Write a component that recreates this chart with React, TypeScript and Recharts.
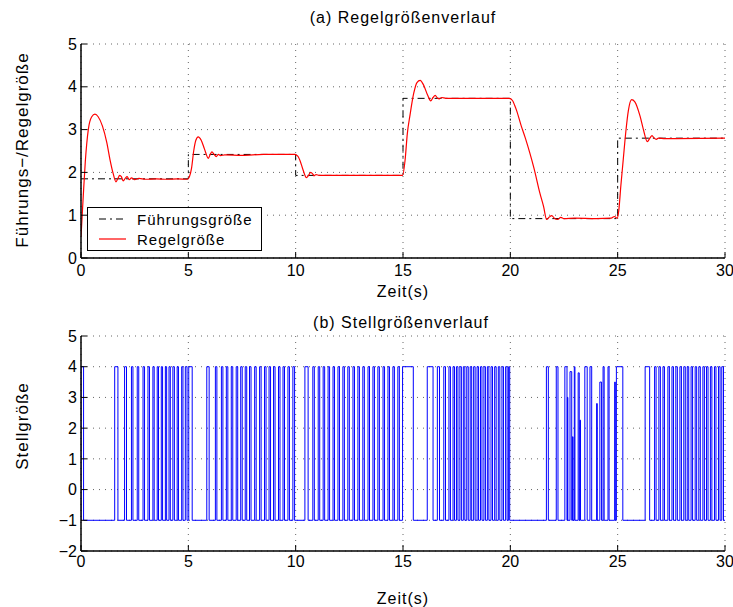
import React from 'react';
import { LineChart, Line, XAxis, YAxis, CartesianGrid } from 'recharts';

// Führungsgröße: Sprungzeitpunkte und Sollwerte
const stepTimes = [0, 5, 10, 15, 20, 25];
const stepLevels = [1.85, 2.42, 1.93, 3.73, 0.92, 2.8];

// Regelgröße [t, y]
const regelPoints: [number, number][] = [
  [0, 0.5], [0.1, 1.4], [0.2, 2.25], [0.34, 3.0], [0.5, 3.3], [0.65, 3.36], [0.8, 3.3], [1.0, 3.08],
  [1.2, 2.7], [1.35, 2.3], [1.5, 1.97], [1.63, 1.78], [1.72, 1.86], [1.8, 1.93], [1.88, 1.9], [1.97, 1.8],
  [2.06, 1.86], [2.15, 1.9], [2.25, 1.83], [2.35, 1.87], [2.5, 1.83], [2.7, 1.86], [3.0, 1.84], [3.5, 1.85],
  [4.0, 1.84], [4.5, 1.85], [4.95, 1.84],
  [5.05, 1.9], [5.15, 2.1], [5.25, 2.5], [5.35, 2.75], [5.46, 2.83], [5.6, 2.75], [5.75, 2.55], [5.93, 2.33],
  [6.02, 2.42], [6.1, 2.48], [6.2, 2.42], [6.3, 2.37], [6.4, 2.42], [6.5, 2.39], [6.7, 2.41], [7.5, 2.4],
  [8.5, 2.42], [9.95, 2.42],
  [10.1, 2.38], [10.2, 2.28], [10.35, 2.05], [10.5, 1.88], [10.6, 1.93], [10.7, 2.0], [10.8, 1.96],
  [10.86, 1.92], [10.95, 1.95], [11.1, 1.93], [13, 1.93], [14.98, 1.93],
  [15.1, 2.3], [15.2, 2.9], [15.33, 3.35], [15.5, 3.85], [15.65, 4.1], [15.8, 4.15], [15.95, 4.05],
  [16.15, 3.8], [16.29, 3.67], [16.4, 3.75], [16.5, 3.8], [16.6, 3.74], [16.7, 3.72], [16.8, 3.75],
  [17, 3.73], [18.5, 3.73], [19.95, 3.73],
  [20.1, 3.68], [20.2, 3.57], [20.29, 3.45], [20.5, 3.1], [20.7, 2.8], [20.91, 2.45], [21.1, 2.1],
  [21.38, 1.51], [21.55, 1.2], [21.69, 0.9], [21.8, 0.95], [21.93, 0.99], [22.05, 0.93], [22.2, 0.9],
  [22.35, 0.95], [22.5, 0.92], [23.0, 0.93], [24.0, 0.92], [24.7, 0.93], [24.85, 0.97], [24.98, 0.93],
  [25.05, 1.1], [25.15, 1.7], [25.26, 2.3], [25.38, 2.95], [25.5, 3.45], [25.65, 3.7], [25.8, 3.65],
  [26.04, 3.32], [26.2, 3.0], [26.38, 2.72], [26.5, 2.8], [26.6, 2.86], [26.7, 2.8], [26.8, 2.77],
  [26.9, 2.8], [27.2, 2.79], [30, 2.8],
];

// Stellgröße: Pulse [ein, aus, Spitzenwert], sonst -1
const pulses: [number, number, number][] = [
  [0, 0.12, 4],
  [1.57, 1.72, 4], [2.03, 2.12, 4], [2.35, 2.42, 4], [2.62, 2.69, 4], [2.89, 2.96, 4], [3.12, 3.19, 4],
  [3.35, 3.41, 4], [3.55, 3.61, 4], [3.74, 3.8, 4], [3.93, 3.99, 4], [4.1, 4.16, 4], [4.28, 4.35, 4],
  [4.48, 4.54, 4], [4.69, 4.75, 4], [4.86, 4.94, 4], [5.02, 5.18, 4],
  [5.86, 5.97, 4], [6.26, 6.33, 4], [6.54, 6.61, 4], [6.77, 6.84, 4], [7.0, 7.07, 4], [7.23, 7.3, 4],
  [7.44, 7.51, 4], [7.65, 7.72, 4], [7.85, 7.92, 4], [8.09, 8.16, 4], [8.32, 8.39, 4], [8.55, 8.62, 4],
  [8.76, 8.83, 4], [8.97, 9.04, 4], [9.2, 9.27, 4], [9.41, 9.48, 4], [9.64, 9.71, 4], [9.87, 9.95, 4],
  [10.43, 10.58, 4], [10.8, 10.87, 4], [11.05, 11.12, 4], [11.28, 11.35, 4], [11.51, 11.58, 4],
  [11.74, 11.81, 4], [11.97, 12.04, 4], [12.2, 12.27, 4], [12.43, 12.5, 4], [12.67, 12.74, 4],
  [12.9, 12.97, 4], [13.13, 13.2, 4], [13.37, 13.44, 4], [13.6, 13.67, 4], [13.83, 13.9, 4],
  [14.07, 14.14, 4], [14.3, 14.37, 4], [14.53, 14.6, 4], [14.76, 14.83, 4], [14.98, 15.48, 4],
  [16.13, 16.4, 4], [16.6, 16.7, 4], [16.9, 16.98, 4], [17.14, 17.21, 4], [17.33, 17.4, 4],
  [17.49, 17.56, 4], [17.65, 17.72, 4], [17.81, 17.88, 4], [17.97, 18.04, 4], [18.13, 18.2, 4],
  [18.29, 18.36, 4], [18.45, 18.52, 4], [18.61, 18.68, 4], [18.77, 18.84, 4], [18.93, 19.0, 4],
  [19.1, 19.17, 4], [19.27, 19.34, 4], [19.44, 19.51, 4], [19.61, 19.68, 4], [19.78, 19.85, 4],
  [19.92, 19.97, 4],
  [21.68, 21.77, 4], [22.14, 22.22, 4], [22.54, 22.64, 4], [22.66, 22.68, 3.0], [22.78, 22.86, 3.84],
  [22.9, 22.92, 1.72], [22.98, 23.01, 4], [23.16, 23.21, 3.8], [23.24, 23.27, 2.26], [23.47, 23.58, 4],
  [23.71, 23.79, 4], [24.02, 24.05, 2.8], [24.17, 24.25, 3.5], [24.32, 24.37, 4], [24.55, 24.6, 4],
  [24.86, 24.89, 3.5], [24.94, 25.24, 4],
  [26.28, 26.49, 4], [26.72, 26.79, 4], [26.92, 26.99, 4], [27.11, 27.18, 4], [27.34, 27.41, 4],
  [27.53, 27.6, 4], [27.71, 27.78, 4], [27.9, 27.97, 4], [28.08, 28.15, 4], [28.24, 28.31, 4],
  [28.42, 28.49, 4], [28.61, 28.68, 4], [28.78, 28.85, 4], [28.97, 29.04, 4], [29.14, 29.21, 4],
  [29.32, 29.39, 4], [29.51, 29.58, 4], [29.7, 29.77, 4], [29.85, 29.93, 4],
];

const xTicks = [0, 5, 10, 15, 20, 25, 30];
const yTicksTop = [0, 1, 2, 3, 4, 5];
const yTicksBottom = [-2, -1, 0, 1, 2, 3, 4, 5];

const FONT = '"Liberation Sans", Arial, Helvetica, sans-serif';

const fuehrungData = stepTimes.flatMap((t, i) => [
  { t, y: stepLevels[i] },
  { t: i + 1 < stepTimes.length ? stepTimes[i + 1] : 30, y: stepLevels[i] },
]);
const regelData = regelPoints.map(([t, y]) => ({ t, y }));
const stellData = pulses.flatMap(([on, off, peak]) => [
  { t: on, u: -1 },
  { t: on, u: peak },
  { t: off, u: peak },
  { t: off, u: -1 },
]);
stellData.push({ t: 30, u: -1 });

const fmt = (v: number) => (v < 0 ? `\u2212${-v}` : `${v}`);
const tickStyle = { fontSize: 16, fill: '#000', fontFamily: FONT };
const axisLine = { stroke: '#000', strokeWidth: 1.5 };
const tickLine = { stroke: '#000' };

function Label({ x, y, text, rotate, size = 15 }: { x: number; y: number; text: string; rotate?: boolean; size?: number }) {
  return (
    <div
      style={{
        position: 'absolute',
        left: x,
        top: y,
        transform: `translate(-50%, -50%)${rotate ? ' rotate(-90deg)' : ''}`,
        fontFamily: FONT,
        fontSize: size,
        letterSpacing: 1,
        lineHeight: 1,
        whiteSpace: 'nowrap',
        color: '#000',
      }}
    >
      {text}
    </div>
  );
}

function LegendBox() {
  const row = (label: string, stroke: string, dash?: string) => (
    <div style={{ display: 'flex', alignItems: 'center', height: 20 }}>
      <svg width={45} height={20}>
        <line x1={11} x2={38} y1={10} y2={10} stroke={stroke} strokeWidth={1.2} strokeDasharray={dash} />
      </svg>
      <span style={{ fontFamily: FONT, fontSize: 15, letterSpacing: 1, marginLeft: 4, lineHeight: 1 }}>{label}</span>
    </div>
  );
  return (
    <div
      style={{
        position: 'absolute',
        left: 87,
        top: 207,
        border: '1.5px solid #000',
        background: '#fff',
        width: 175,
        height: 44,
        boxSizing: 'border-box',
        paddingTop: 1,
      }}
    >
      {row('Führungsgröße', '#000', '7 4 2 4')}
      {row('Regelgröße', '#ff0000')}
    </div>
  );
}

function Axes({ yTicks, yDomain, xTickMargin }: { yTicks: number[]; yDomain: [number, number]; xTickMargin: number }) {
  return (
    <>
      <CartesianGrid stroke="#666" strokeDasharray="1 5" />
      <XAxis
        type="number"
        dataKey="t"
        domain={[0, 30]}
        ticks={xTicks}
        height={30}
        tick={tickStyle}
        tickSize={-6}
        tickMargin={xTickMargin}
        axisLine={axisLine}
        tickLine={tickLine}
        allowDataOverflow
      />
      <XAxis
        xAxisId="top"
        orientation="top"
        type="number"
        domain={[0, 30]}
        ticks={xTicks}
        height={0}
        tick={false}
        tickSize={-6}
        axisLine={axisLine}
        tickLine={tickLine}
      />
      <YAxis
        type="number"
        domain={yDomain}
        ticks={yTicks}
        width={81}
        tick={tickStyle}
        tickFormatter={fmt}
        tickSize={-6}
        tickMargin={10}
        axisLine={axisLine}
        tickLine={tickLine}
        allowDataOverflow
      />
      <YAxis
        yAxisId="right"
        orientation="right"
        type="number"
        domain={yDomain}
        ticks={yTicks}
        width={0}
        tick={false}
        tickSize={-6}
        axisLine={axisLine}
        tickLine={tickLine}
      />
    </>
  );
}

export default function App() {
  return (
    <div style={{ position: 'absolute', left: 0, top: 0, width: 733, height: 607, background: '#fff', overflow: 'hidden' }}>
      <div style={{ position: 'absolute', left: 0, top: 0 }}>
        <LineChart width={733} height={300} margin={{ top: 44, right: 8, left: 0, bottom: 12 }}>
          {Axes({ yTicks: yTicksTop, yDomain: [0, 5], xTickMargin: 13 })}
          <Line
            data={fuehrungData}
            dataKey="y"
            type="linear"
            stroke="#000"
            strokeWidth={1}
            strokeDasharray="7 4 2 4"
            dot={false}
            isAnimationActive={false}
            name="Führungsgröße"
          />
          <Line
            data={regelData}
            dataKey="y"
            type="monotone"
            stroke="#ff0000"
            strokeWidth={1.2}
            dot={false}
            isAnimationActive={false}
            name="Regelgröße"
          />
        </LineChart>
      </div>
      <LegendBox />
      <div style={{ position: 'absolute', left: 0, top: 300 }}>
        <LineChart width={733} height={307} margin={{ top: 36, right: 8, left: 0, bottom: 26 }}>
          {Axes({ yTicks: yTicksBottom, yDomain: [-2, 5], xTickMargin: 11 })}
          <Line
            data={stellData}
            dataKey="u"
            type="linear"
            stroke="#0000ff"
            strokeWidth={1}
            dot={false}
            isAnimationActive={false}
          />
        </LineChart>
      </div>
      <Label x={403} y={18} text="(a) Regelgrößenverlauf" size={16} />
      <Label x={22} y={150} text="Führungs−/Regelgröße" rotate size={17} />
      <Label x={403} y={292} text="Zeit(s)" size={16} />
      <Label x={401} y={323} text="(b) Stellgrößenverlauf" size={16} />
      <Label x={22} y={426} text="Stellgröße" rotate size={17} />
      <Label x={403} y={599} text="Zeit(s)" size={16} />
    </div>
  );
}
